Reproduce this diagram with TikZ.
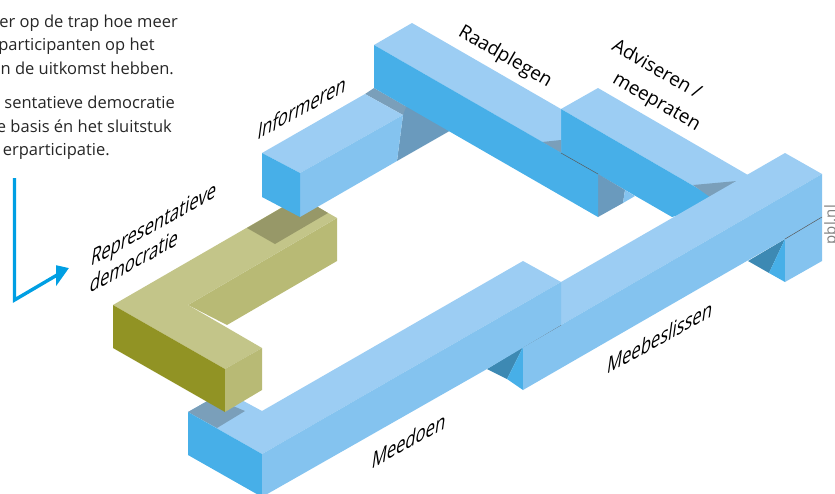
\documentclass[tikz,border=0pt]{standalone}
\usepackage{fontspec}
\setmainfont{Open Sans}
\usetikzlibrary{arrows.meta}
\definecolor{blueTop}{HTML}{9CCDF3}
\definecolor{blueSide}{HTML}{84C3EF}
\definecolor{blueFront}{HTML}{47AFE8}
\definecolor{blueDark}{HTML}{3D89B3}
\definecolor{shadeTop}{HTML}{7A9FBA}
\definecolor{shadeSide}{HTML}{6A9ABD}
\definecolor{oliveTop}{HTML}{C3C589}
\definecolor{oliveSide}{HTML}{B8BA75}
\definecolor{oliveFront}{HTML}{919324}
\definecolor{oliveShade}{HTML}{979868}
\definecolor{axisBlue}{HTML}{009FE3}
\tikzset{
    intro/.style={anchor=base east,inner sep=0pt,font=\fontsize{16.5}{19}\selectfont,text=black!85},
    riser/.style={inner sep=0pt,align=left,font=\fontsize{19}{28}\selectfont,transform shape,rotate=-30},
    tread/.style={inner sep=0pt,align=left,font=\fontsize{19}{23}\selectfont,transform shape,rotate=29,xslant=.75},
}

\begin{document}
\begin{tikzpicture}[x=1pt,y=-1pt]
    \useasboundingbox (0,0) rectangle (835,493);

    \node[intro] (introa) at (178,27) {er op de trap hoe meer};
    \node[intro] (introb) at (155,50) {participanten op het};
    \node[intro] (introc) at (174,74) {n de uitkomst hebben.};
    \node[intro] (introd) at (175,108) {sentatieve democratie};
    \node[intro] (introe) at (172,132) {e basis én het sluitstuk};
    \node[intro] (introf) at (110,155) {erparticipatie.};

    \node[inner sep=0pt,text=black!50,font=\fontsize{15}{17}\selectfont,rotate=90,anchor=base east] (source) at (835.5,205) {pbl.nl};

    % axes
    \coordinate (axistop) at (14.5,178);
    \coordinate (axiscorner) at (14.5,300);
    \coordinate (axisend) at (69,268);
    \draw[axisBlue,line width=3.4pt,-{Triangle[length=15pt,width=17pt,slant=.58]}] (axistop) -- (axiscorner) -- (axisend);

    % adviseren
    \fill[blueTop] (561,109) -- (598,88) -- (760,182) -- (723,203) -- cycle;
    \fill[blueFront] (561,109) -- (561,153) -- (672,217) -- (723,203) -- cycle;
    \fill[shadeTop] (693,185) -- (737,181) -- (710,197) -- cycle;
    \fill[shadeSide] (598,174) -- (625,190) -- (623,203) -- (598,217) -- cycle;
    \fill[blueSide] (625,190) -- (635,196) -- (623,203) -- cycle;

    % informeren, shadow first
    \fill[shadeTop] (365,94) -- (374,88) -- (409,108) -- (403,115) -- cycle;
    \fill[shadeSide] (403,115) -- (409,100) -- (460,125) -- (397,161) -- cycle;

    % raadplegen
    \fill[blueTop] (374,45) -- (412,23) -- (561,109) -- (561,153) -- cycle;
    \fill[shadeTop] (542,142) -- (561,140) -- (561,153) -- cycle;
    \fill[blueFront] (374,45) -- (598,174) -- (598,217) -- (374,88) -- cycle;
    \draw[black!65,line width=0.5pt] (561,153) -- (598,174);

    % meebeslissen
    \fill[blueDark] (748,261) -- (785,239) -- (769,273) -- cycle;
    \fill[blueFront] (785,239) -- (785,282) -- (769,273) -- cycle;
    \fill[blueDark] (487,369) -- (523,347) -- (507,379) -- cycle;
    \fill[blueFront] (523,347) -- (523,390) -- (507,379) -- cycle;
    \fill[blueTop] (785,153) -- (822,174) -- (561,325) -- (561,282) -- cycle;
    \fill[blueSide] (561,325) -- (822,174) -- (822,261) -- (785,282) -- (785,239) -- (523,390) -- (523,347) -- cycle;
    \draw[black!65,line width=0.5pt] (822,217) -- (785,239);
    \draw[black!65,line width=0.5pt] (561,325) -- (523,347);

    % meedoen
    \fill[blueTop] (225,391) -- (262,411) -- (523,261) -- (561,282) -- (262,454) -- (188,412) -- cycle;
    \fill[shadeTop] (188,412) -- (225,391) -- (233,406) -- (245,411) -- (217,428) -- cycle;
    \fill[blueFront] (188,412) -- (262,454) -- (262,497) -- (188,455) -- cycle;
    \fill[blueSide] (262,454) -- (561,282) -- (561,325) -- (487,369) -- (262,497) -- cycle;

    % representatieve democratie
    \fill[oliveSide] (188,305) -- (337,218) -- (337,261) -- (227,325) -- cycle;
    \fill[oliveTop] (113,305) -- (300,197) -- (337,218) -- (188,305) -- (262,348) -- (225,369) -- cycle;
    \fill[oliveShade] (247,228) -- (300,197) -- (318,207) -- (328,213) -- (275,244) -- cycle;
    \fill[oliveFront] (113,305) -- (225,369) -- (225,412) -- (113,348) -- cycle;
    \fill[oliveSide] (225,369) -- (262,348) -- (262,390) -- (225,412) -- cycle;

    % informeren on top of the olive
    \fill[blueTop] (262,153) -- (365,94) -- (403,115) -- (300,173) -- cycle;
    \fill[blueSide] (300,173) -- (403,115) -- (397,161) -- (300,217) -- cycle;
    \fill[blueFront] (262,153) -- (300,173) -- (300,217) -- (262,197) -- cycle;

    \node[tread] (informeren) at (302,107) {Informeren};
    \node[riser] (raadplegen) at (505,57) {Raadplegen};
    \node[riser] (adviseren) at (656,86) {Adviseren /\\\hspace*{17pt}meepraten};
    \node[tread] (representatieve) at (152,238) {Representatieve\\\hspace*{3pt}democratie};
    \node[tread] (meedoen) at (409,440) {Meedoen};
    \node[tread] (meebeslissen) at (660,337) {Meebeslissen};
\end{tikzpicture}
\end{document}
